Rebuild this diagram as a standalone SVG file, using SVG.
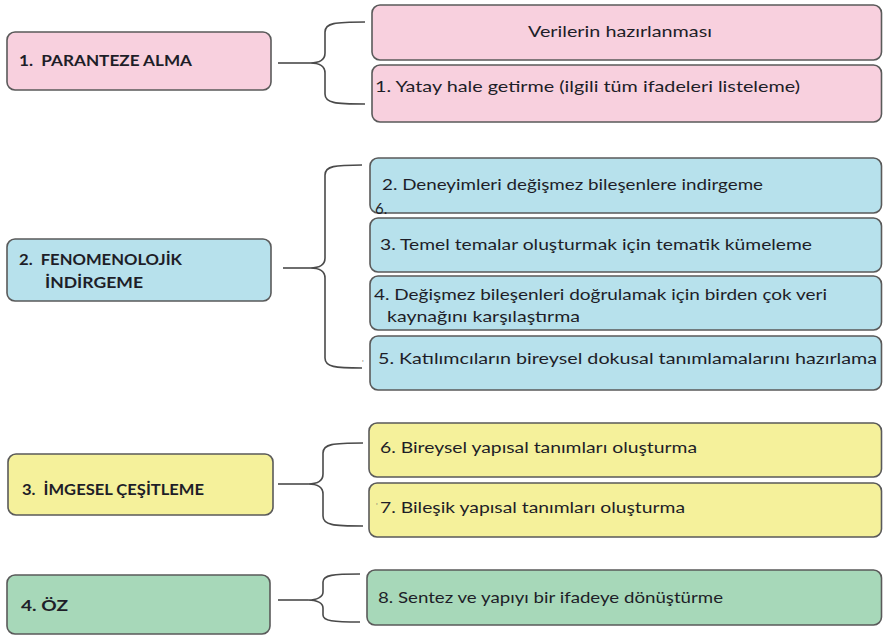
<svg xmlns="http://www.w3.org/2000/svg" width="883" height="636" viewBox="0 0 883 636">
<style>
  .box { stroke: #5a5a5a; stroke-width: 1.6; }
  .pink { fill: #F8D0DE; }
  .blue { fill: #B7E1EC; }
  .yellow { fill: #F5F19B; }
  .green { fill: #A7D8B9; }
  .brace { fill: none; stroke: #4a4a4a; stroke-width: 1.6; }
  text { font-family: Lato, "Liberation Sans", "DejaVu Sans", sans-serif; font-size: 15px; fill: #1e1e28; }
  .b { font-weight: bold; }
  .tick { font-size: 8px; fill: #777777; }
</style>
<rect width="883" height="636" fill="#ffffff"/>

<g id="connectors">
  <path class="brace" d="M365,22 C335,22 325,23 325,32 L325,53 C325,60 319,63 310,63 C319,63 325,66 325,73 L325,94 C325,103 335,104 365,104"/>
  <path class="brace" d="M278,63 L310,63"/>
  <path class="brace" d="M362,165 C335,165 325,166 325,175 L325,258 C325,265 319,268 310,268 C319,268 325,271 325,278 L325,358 C325,367 335,368 362,368"/>
  <path class="brace" d="M283,268 L310,268"/>
  <path class="brace" d="M363,443 C333,443 323,444 323,453 L323,474 C323,481 317,484 308,484 C317,484 323,487 323,494 L323,516 C323,525 333,526 363,526"/>
  <path class="brace" d="M278,484 L308,484"/>
  <path class="brace" d="M360,574 C333,574 323,575 323,582 L323,592 C323,597 317,600 308,600 C317,600 323,603 323,608 L323,615 C323,621 333,622 360,622"/>
  <path class="brace" d="M278,600 L308,600"/>
</g>

<g id="node-paranteze">
  <rect class="box pink" x="7" y="32" width="264" height="58" rx="8"/>
  <text class="b" x="19" y="66" textLength="173" lengthAdjust="spacingAndGlyphs" xml:space="preserve">1.  PARANTEZE ALMA</text>
</g>
<g id="node-verilerin">
  <rect class="box pink" x="372" y="5" width="509.5" height="55" rx="8"/>
  <text x="528" y="37" textLength="184" lengthAdjust="spacingAndGlyphs">Verilerin hazırlanması</text>
</g>
<g id="node-yatay">
  <rect class="box pink" x="372" y="65" width="509.5" height="57" rx="8"/>
  <text x="375" y="92" textLength="425" lengthAdjust="spacingAndGlyphs">1. Yatay hale getirme (ilgili tüm ifadeleri listeleme)</text>
</g>

<g id="node-fenomenolojik">
  <rect class="box blue" x="7" y="239" width="264" height="62" rx="8"/>
  <text class="b" x="19" y="265" textLength="163" lengthAdjust="spacingAndGlyphs" xml:space="preserve">2.  FENOMENOLOJİK</text>
  <text class="b" x="45" y="288" textLength="98" lengthAdjust="spacingAndGlyphs">İNDİRGEME</text>
</g>
<g id="node-deneyimleri">
  <rect class="box blue" x="370" y="158" width="511.5" height="55" rx="8"/>
  <text x="382" y="190" textLength="381" lengthAdjust="spacingAndGlyphs">2. Deneyimleri değişmez bileşenlere indirgeme</text>
  <text x="375" y="214" font-size="14">6.</text>
</g>
<g id="node-temel">
  <rect class="box blue" x="370" y="218" width="511.5" height="54" rx="8"/>
  <text x="380" y="250" textLength="432" lengthAdjust="spacingAndGlyphs">3. Temel temalar oluşturmak için tematik kümeleme</text>
</g>
<g id="node-degismez">
  <rect class="box blue" x="370" y="276" width="511.5" height="54" rx="8"/>
  <text x="374" y="300" textLength="453" lengthAdjust="spacingAndGlyphs">4. Değişmez bileşenleri doğrulamak için birden çok veri</text>
  <text x="387" y="322" textLength="193" lengthAdjust="spacingAndGlyphs">kaynağını karşılaştırma</text>
</g>
<g id="node-katilimcilar">
  <rect class="box blue" x="370" y="336" width="511.5" height="54" rx="8"/>
  <text class="tick" x="362" y="366">'</text>
  <text x="378" y="364" textLength="499" lengthAdjust="spacingAndGlyphs">5. Katılımcıların bireysel dokusal tanımlamalarını hazırlama</text>
</g>

<g id="node-imgesel">
  <rect class="box yellow" x="8" y="454" width="265" height="61" rx="8"/>
  <text class="b" x="22" y="495" textLength="182" lengthAdjust="spacingAndGlyphs" xml:space="preserve">3.  İMGESEL ÇEŞİTLEME</text>
</g>
<g id="node-bireysel">
  <rect class="box yellow" x="369" y="423" width="512.5" height="54" rx="8"/>
  <text x="380" y="453" textLength="317" lengthAdjust="spacingAndGlyphs">6. Bireysel yapısal tanımları oluşturma</text>
</g>
<g id="node-bilesik">
  <rect class="box yellow" x="369" y="483" width="512.5" height="54" rx="8"/>
  <text class="tick" x="376" y="509">'</text>
  <text x="380" y="513" textLength="305" lengthAdjust="spacingAndGlyphs">7. Bileşik yapısal tanımları oluşturma</text>
</g>

<g id="node-oz">
  <rect class="box green" x="7" y="575" width="263" height="59" rx="8"/>
  <text class="b" x="21" y="611" textLength="47" lengthAdjust="spacingAndGlyphs">4. ÖZ</text>
</g>
<g id="node-sentez">
  <rect class="box green" x="367" y="570" width="514.5" height="55" rx="8"/>
  <text x="378" y="603" textLength="345" lengthAdjust="spacingAndGlyphs">8. Sentez ve yapıyı bir ifadeye dönüştürme</text>
</g>
</svg>
